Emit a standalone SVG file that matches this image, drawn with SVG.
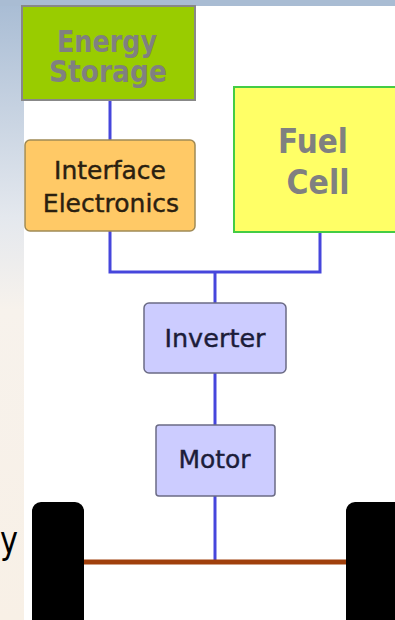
<svg xmlns="http://www.w3.org/2000/svg" width="395" height="620" viewBox="0 0 395 620">
<defs>
<linearGradient id="bgl" x1="0" y1="0" x2="0" y2="1">
<stop offset="0" stop-color="#a8bcd4"/>
<stop offset="0.35" stop-color="#e4e8ee"/>
<stop offset="0.5" stop-color="#f7f2ec"/>
<stop offset="1" stop-color="#f8f0e6"/>
</linearGradient>
<style>
.wire{fill:none;stroke:#4646dc;stroke-width:3}
.t{font-family:"DejaVu Sans",Verdana,sans-serif;text-anchor:middle;stroke-width:0.4}
.tb{font-family:"DejaVu Sans",Verdana,sans-serif;font-weight:bold;text-anchor:middle;fill:#808080}
.blue{fill:#ccccff;stroke:#6b6b85;stroke-width:1.5}
.wheel{fill:#000}
</style>
</defs>
<rect x="0" y="0" width="395" height="620" fill="#ffffff"/>
<rect x="0" y="0" width="24" height="620" fill="url(#bgl)"/>
<rect x="0" y="0" width="395" height="6" fill="#a9bcd3"/>
<text x="0" y="553" font-family="DejaVu Sans, sans-serif" font-size="38" textLength="18" lengthAdjust="spacingAndGlyphs" fill="#000">y</text>

<g id="connectors">
<line class="wire" x1="110" y1="100" x2="110" y2="140"/>
<polyline class="wire" points="110,231 110,272 320,272 320,232"/>
<line class="wire" x1="215" y1="272" x2="215" y2="303"/>
<line class="wire" x1="215" y1="373" x2="215" y2="425"/>
<line class="wire" x1="215" y1="496" x2="215" y2="561"/>
<line x1="84" y1="562" x2="346" y2="562" stroke="#a0400c" stroke-width="5"/>
</g>

<g id="energy-storage">
<rect x="22" y="6" width="173" height="94" fill="#99cc00" stroke="#888888" stroke-width="2"/>
<text class="tb" x="107" y="52" font-size="30" textLength="100" lengthAdjust="spacingAndGlyphs">Energy</text>
<text class="tb" x="108" y="82" font-size="30" textLength="118" lengthAdjust="spacingAndGlyphs">Storage</text>
</g>

<g id="interface-electronics">
<rect x="25" y="140" width="170" height="91" rx="5" fill="#ffc966" stroke="#a08a55" stroke-width="1.5"/>
<text class="t" x="110" y="179" font-size="25" fill="#2a2010" stroke="#2a2010">Interface</text>
<text class="t" x="111" y="212" font-size="25" fill="#2a2010" stroke="#2a2010">Electronics</text>
</g>

<g id="fuel-cell">
<rect x="234" y="87" width="170" height="145" fill="#ffff66" stroke="#44cc44" stroke-width="2"/>
<text class="tb" x="313" y="153" font-size="34" textLength="70" lengthAdjust="spacingAndGlyphs">Fuel</text>
<text class="tb" x="318" y="194" font-size="34" textLength="63" lengthAdjust="spacingAndGlyphs">Cell</text>
</g>

<g id="inverter">
<rect class="blue" x="144" y="303" width="142" height="70" rx="5"/>
<text class="t" x="215" y="347" font-size="25.5" fill="#1c1c3a" stroke="#1c1c3a">Inverter</text>
</g>

<g id="motor">
<rect class="blue" x="156" y="425" width="119" height="71" rx="3"/>
<text class="t" x="214.5" y="468" font-size="25" fill="#1c1c3a" stroke="#1c1c3a">Motor</text>
</g>

<g id="wheel-left">
<rect class="wheel" x="32" y="502" width="52" height="128" rx="9"/>
</g>
<g id="wheel-right">
<rect class="wheel" x="346" y="502" width="60" height="128" rx="9"/>
</g>
</svg>
